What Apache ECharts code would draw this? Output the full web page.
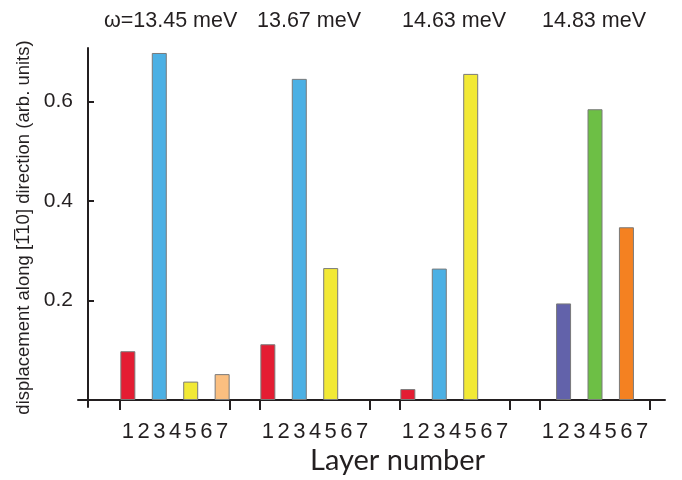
<!DOCTYPE html>
<html>
<head>
<meta charset="utf-8">
<script src="https://cdn.jsdelivr.net/npm/echarts@6/dist/echarts.min.js"></script>
<style>html,body{margin:0;padding:0;background:#fff;}#c{width:682px;height:480px;}</style>
</head>
<body>
<div id="c"></div>
<script>
// ---- data ----
const energies = ['ω=13.45 meV', '13.67 meV', '14.63 meV', '14.83 meV'];
const layerNumbers = [1, 2, 3, 4, 5, 6, 7];
const layersG1 = [1, 3, 5, 7];
const valuesG1 = [0.098, 0.697, 0.037, 0.052];
const colorsG1 = ['#e41d33', '#4cb0e4', '#f2e935', '#fbbf80'];
const layersG2 = [1, 3, 5];
const valuesG2 = [0.112, 0.645, 0.265];
const colorsG2 = ['#e41d33', '#4cb0e4', '#f2e935'];
const layersG3 = [1, 3, 5];
const valuesG3 = [0.022, 0.264, 0.655];
const colorsG3 = ['#e41d33', '#4cb0e4', '#f2e935'];
const layersG4 = [2, 4, 6];
const valuesG4 = [0.194, 0.584, 0.347];
const colorsG4 = ['#6262aa', '#6dbf45', '#f48121'];
const yTicks = [0.2, 0.4, 0.6];

// ---- layout of the grouped x axis (position units) ----
const GROUP_START = 32, GROUP_STRIDE = 140, LAYER_W = 110 / 7;
const groups = [
  {layers: layersG1, values: valuesG1, colors: colorsG1},
  {layers: layersG2, values: valuesG2, colors: colorsG2},
  {layers: layersG3, values: valuesG3, colors: colorsG3},
  {layers: layersG4, values: valuesG4, colors: colorsG4}
];
const pos = (g, layer) => GROUP_START + g * GROUP_STRIDE + (layer - 0.5) * LAYER_W;

const barData = [];
groups.forEach((gr, g) => {
  gr.layers.forEach((l, i) => {
    barData.push({value: [pos(g, l), gr.values[i]], itemStyle: {color: gr.colors[i]}});
  });
});
const labelPos = [], labelMap = {};
const tickPos = [];
groups.forEach((gr, g) => {
  layerNumbers.forEach(l => { const p = pos(g, l); labelPos.push(p); labelMap[p.toFixed(3)] = String(l); });
  tickPos.push(GROUP_START + g * GROUP_STRIDE, GROUP_START + g * GROUP_STRIDE + 7 * LAYER_W);
});

const INK = '#231f20';
const chart = echarts.init(document.getElementById('c'));
chart.setOption({
  animation: false,
  backgroundColor: '#fff',
  grid: {left: 78, right: 17, top: 48, bottom: 73, containLabel: false, outerBoundsMode: 'none'},
  xAxis: {
    type: 'value', min: -10, max: 577,
    splitLine: {show: false},
    axisLine: {onZero: true, lineStyle: {color: INK, width: 2}},
    axisTick: {show: true, customValues: tickPos, length: 10, lineStyle: {color: INK, width: 2}},
    axisLabel: {
      customValues: labelPos, margin: 14,
      fontFamily: 'Liberation Sans', fontSize: 22, color: INK,
      formatter: v => labelMap[v.toFixed(3)] || ''
    }
  },
  yAxis: {
    type: 'value', min: -0.014, max: 0.707,
    name: 'displacement along [1\u030510] direction (arb. units)',
    nameLocation: 'middle', nameGap: 45,
    nameTextStyle: {fontFamily: 'Liberation Sans', fontSize: 18.5, color: INK},
    splitLine: {show: false},
    axisLine: {onZero: true, lineStyle: {color: INK, width: 2}},
    axisTick: {show: true, inside: true, customValues: yTicks, length: 6, lineStyle: {color: INK, width: 2}},
    axisLabel: {customValues: yTicks, margin: 5, fontFamily: 'Liberation Sans', fontSize: 21, color: INK}
  },
  series: [{
    type: 'bar', barWidth: 15, data: barData,
    itemStyle: {borderColor: '#7a7a7a', borderWidth: 1}
  }],
  graphic: energies.map((t, g) => ({
    type: 'text', left: [104, 257, 402, 542][g], top: 10,
    style: {text: t, font: '21.5px "Liberation Sans"', fill: INK}
  })).concat([{
    type: 'text', left: 310, top: 446,
    style: {text: 'Layer number', font: '29px Lato', fill: INK}
  }])
});
</script>
</body>
</html>
